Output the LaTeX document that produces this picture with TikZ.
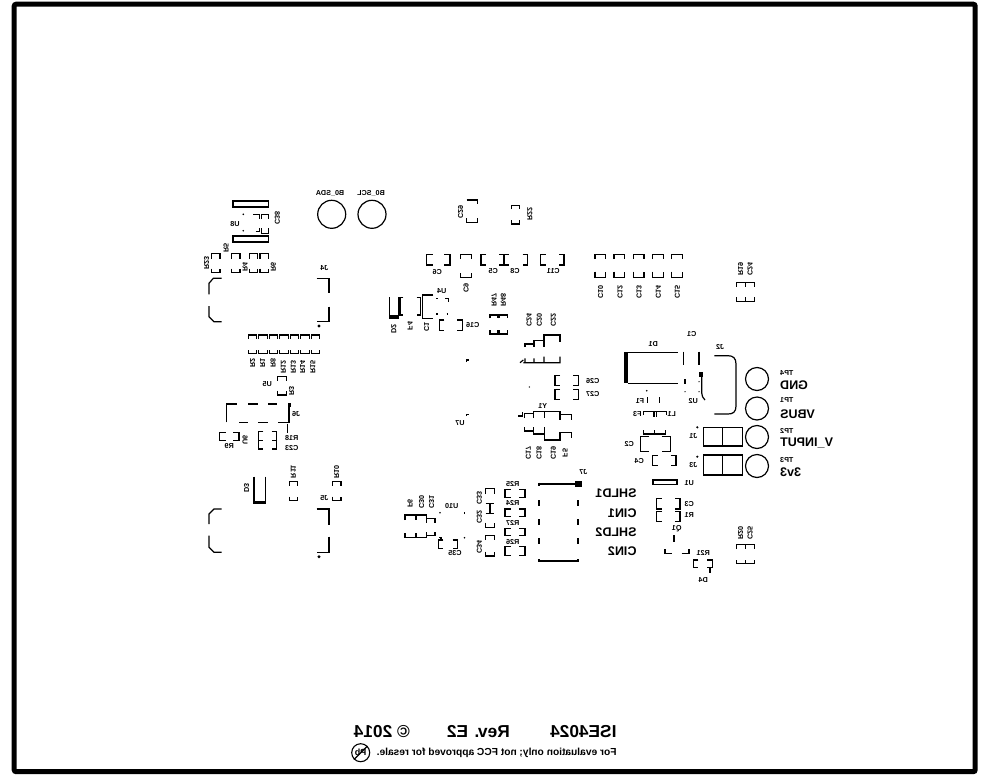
\documentclass[tikz,border=0pt]{standalone}
\usepackage{fontspec}
\setmainfont{Liberation Sans}
\tikzset{
sk/.style={line width=1.2pt},
wide/.style={line width=1.6pt},
lab/.style={font=\fontsize{7.2}{8}\selectfont\bfseries, inner sep=0pt, xscale=-1},
vlab/.style={lab, rotate=90},
big/.style={font=\fontsize{12.5}{14}\selectfont\bfseries, inner sep=0pt, xscale=-1},
huge/.style={font=\fontsize{17.3}{19}\selectfont\bfseries, inner sep=0pt, xscale=-1},
note/.style={font=\fontsize{10.2}{12}\selectfont\bfseries, inner sep=0pt, xscale=-1}
}
\begin{document}
\begin{tikzpicture}[x=1pt,y=-1pt]
\useasboundingbox (0,0) rectangle (981,782);
\draw [line width=5pt, rounded corners=2pt] (14.2,4.2) rectangle (975.2,771.7);
\draw [wide] (232.7,200.7) rectangle (268.3,206.7);
\draw [wide] (232.7,236) rectangle (268.3,242);
\draw [sk] (331.7,214.3) circle (14);
\draw [sk] (372,214.3) circle (14);
\node [lab] (bsda) at (330,193.5) {B0\_SDA};
\node [lab] (bscl) at (371,193.5) {B0\_SCL};
\node [lab] (u8) at (235,224) {U8};
\node [vlab] (c38) at (277.3,218.3) {C38};
\fill (243.3,214.3) circle (0.9);
\fill (243.3,230.7) circle (0.9);
\draw [sk] (253.3,214.3) -- (259.3,214.3) -- (259.3,219.3);
\draw [sk] (261.7,219.3) -- (261.7,214.3) -- (268.3,214.3) -- (268.3,219.3);
\draw [sk] (255.7,231.7) -- (259.3,231.7) -- (259.3,228.3);
\draw [sk] (261.7,228.3) -- (261.7,233.3) -- (268.3,233.3) -- (268.3,228.3);
\node [vlab] (r5) at (226,248) {R5};
\node [vlab] (r23) at (206.7,263) {R23};
\node [vlab] (r4) at (245,267) {R4};
\node [vlab] (r6) at (273.3,267) {R6};
\draw [sk] (211.7,258.5) -- (211.7,253.5) -- (220,253.5) -- (220,258.5) (211.7,268.5) -- (211.7,272.5) -- (220,272.5) -- (220,268.5);
\draw [sk] (231.7,258.5) -- (231.7,253.5) -- (240,253.5) -- (240,258.5) (231.7,268.5) -- (231.7,272.5) -- (240,272.5) -- (240,268.5);
\draw [sk] (249.3,258.5) -- (249.3,253.5) -- (257.7,253.5) -- (257.7,258.5) (249.3,268.5) -- (249.3,272.5) -- (257.7,272.5) -- (257.7,268.5);
\draw [sk] (260,258.5) -- (260,253.5) -- (268.3,253.5) -- (268.3,258.5) (260,268.5) -- (260,272.5) -- (268.3,272.5) -- (268.3,268.5);
\node [lab] (j4) at (324.3,268) {J4};
\draw [sk] (316.7,278.3) -- (329,278.3) -- (329,293.3) (329,306.7) -- (329,321.7) -- (316.7,321.7);
\draw [sk] (221.7,278.3) -- (213.3,278.3) -- (209,283.3) -- (209,294.3) (209,306) -- (209,316.7) -- (214,321.7) -- (221.7,321.7);
\fill (319,326) circle (1.6);
\draw [sk] (248.3,339) -- (248.3,335) -- (256.8,335) -- (256.8,339) (258.8,339) -- (258.8,335) -- (267.3,335) -- (267.3,339) (269.3,339) -- (269.3,335) -- (277.8,335) -- (277.8,339) (279.7,339) -- (279.7,335) -- (288.2,335) -- (288.2,339) (290.2,339) -- (290.2,335) -- (298.7,335) -- (298.7,339) (300.7,339) -- (300.7,335) -- (309.2,335) -- (309.2,339) (311.2,339) -- (311.2,335) -- (319.7,335) -- (319.7,339);
\draw [sk] (248.3,350) -- (248.3,353.5) -- (256.8,353.5) -- (256.8,350) (258.8,350) -- (258.8,353.5) -- (267.3,353.5) -- (267.3,350) (269.3,350) -- (269.3,353.5) -- (277.8,353.5) -- (277.8,350) (279.7,350) -- (279.7,353.5) -- (288.2,353.5) -- (288.2,350) (290.2,350) -- (290.2,353.5) -- (298.7,353.5) -- (298.7,350) (300.7,350) -- (300.7,353.5) -- (309.2,353.5) -- (309.2,350) (311.2,350) -- (311.2,353.5) -- (319.7,353.5) -- (319.7,350);
\node [vlab] (r2) at (252.7,363) {R2};
\node [vlab] (r1b) at (262.7,363) {R1};
\node [vlab] (r8) at (273,363) {R8};
\node [vlab] (r12) at (283.3,367) {R12};
\node [vlab] (r13) at (293.3,367) {R13};
\node [vlab] (r14) at (302.7,367) {R14};
\node [vlab] (r15) at (312.7,367) {R15};
\node [lab] (u5) at (267.3,384) {U5};
\node [vlab] (r3) at (291.7,390.7) {R3};
\draw [sk] (277.3,380.7) -- (277.3,376.7) -- (286.7,376.7) -- (286.7,380.7) (277.3,390.7) -- (277.3,395) -- (286.7,395) -- (286.7,390.7);
\draw [sk] (226.7,422.3) -- (226.7,404) -- (236.7,404);
\draw [sk] (248.3,404) -- (258.3,404) (268.3,404) -- (277.3,404);
\draw [sk] (239,422.3) -- (248.3,422.3) (258.3,422.3) -- (268.3,422.3) (278.3,422.3) -- (289,422.3) -- (289,405);
\fill (288,403) rectangle (291,407);
\draw [wide] (287.3,423.5) -- (287.3,433);
\node [lab] (j6) at (296,414) {J6};
\node [lab] (r18) at (291.7,438.3) {R18};
\node [lab] (c23) at (291.7,448.3) {C23};
\draw [sk] (263.3,431.7) -- (258.3,431.7) -- (258.3,449) -- (263.3,449) (258.3,440.7) -- (263.3,440.7);
\draw [sk] (271.7,431.7) -- (276.7,431.7) -- (276.7,449) -- (271.7,449) (276.7,440.7) -- (271.7,440.7);
\node [vlab] (u6) at (245,440) {U6};
\draw [sk] (225.7,432.3) -- (219.3,432.3) -- (219.3,440.7) -- (225.7,440.7);
\draw [sk] (233.3,432.3) -- (239,432.3) -- (239,440.7) -- (233.3,440.7);
\node [lab] (r9) at (229.3,446) {R9};
\draw [sk] (289.3,485.7) -- (289.3,481.7) -- (297.7,481.7) -- (297.7,485.7) (289.3,496.7) -- (289.3,500.7) -- (297.7,500.7) -- (297.7,496.7);
\node [vlab] (r11) at (293.3,471.7) {R11};
\draw [sk] (332.7,485.7) -- (332.7,481.7) -- (341,481.7) -- (341,485.7) (332.7,496.7) -- (332.7,500.7) -- (341,500.7) -- (341,496.7);
\node [vlab] (r10) at (336.7,471.7) {R10};
\draw [sk] (254,476.7) -- (254,501) (265.7,476.7) -- (265.7,501);
\fill (253.3,500.7) rectangle (266.3,504);
\node [vlab] (d3) at (246.7,488.3) {D3};
\node [lab] (j5) at (324.3,498.3) {J5};
\draw [sk] (316.7,509) -- (329,509) -- (329,525) (329,536.7) -- (329,552.3) -- (316.7,552.3);
\draw [sk] (221.7,509) -- (214,509) -- (209,514) -- (209,524) (209,535.7) -- (209,547.3) -- (214,552.3) -- (221.7,552.3);
\fill (319,556.7) circle (1.6);
\draw [sk] (389.3,297.3) -- (389.3,316) (399,297.3) -- (399,316);
\fill (389,315) rectangle (399.3,318.5);
\node [vlab] (d2) at (394,329) {D2};
\draw [sk] (403.3,297.3) -- (400.3,297.3) -- (400.3,315) -- (403.3,315);
\draw [sk] (416.7,297.3) -- (420.7,297.3) -- (420.7,315) -- (416.7,315);
\node [vlab] (f4) at (410,326) {F4};
\node [vlab] (c1b) at (426.7,326.7) {C1};
\draw [sk] (433.3,295) -- (422.3,295) -- (422.3,318.3) -- (433.3,318.3);
\node [lab] (u4) at (441.7,290.7) {U4};
\draw [sk] (436,298.3) -- (438.3,298.3) (445,298.3) -- (448.3,298.3) -- (448.3,301.7) (436,314) -- (438.3,314) (446.7,314) -- (448.3,314);
\draw [sk] (444.3,320) -- (439.3,320) -- (439.3,330.7) -- (444.3,330.7);
\draw [sk] (457.3,320) -- (462.3,320) -- (462.3,330.7) -- (457.3,330.7);
\node [lab] (c16) at (472.7,325) {C16};
\draw [sk] (432.7,254.3) -- (426.7,254.3) -- (426.7,265) -- (432.7,265);
\draw [sk] (444.3,254.3) -- (450,254.3) -- (450,265) -- (444.3,265);
\node [lab] (c6) at (437.3,271.7) {C6};
\draw [sk] (460.7,259) -- (460.7,254.3) -- (471.7,254.3) -- (471.7,259) (460.7,273.3) -- (460.7,277.3) -- (471.7,277.3) -- (471.7,273.3);
\node [vlab] (c9) at (466,288) {C9};
\draw [sk] (486,254.3) -- (481,254.3) -- (481,265) -- (486,265);
\draw [sk] (499.3,254.3) -- (509.3,254.3) (504,254.3) -- (504,265) (499.3,265) -- (509.3,265);
\draw [sk] (522.7,254.3) -- (527.7,254.3) -- (527.7,265) -- (522.7,265);
\node [lab] (c5) at (493.3,270.7) {C5};
\node [lab] (c8) at (515,270.7) {C8};
\draw [sk] (545.7,254.3) -- (540.7,254.3) -- (540.7,265) -- (545.7,265);
\draw [sk] (559,254.3) -- (564,254.3) -- (564,265) -- (559,265);
\node [lab] (c11) at (553.3,270.7) {C11};
\draw [sk] (466.7,200) -- (477.3,200) -- (477.3,204) (466.7,222.7) -- (477.3,222.7) -- (477.3,218) (466.7,218) -- (466.7,222.7);
\node [vlab] (c29) at (460.7,211.7) {C29};
\draw [sk] (511.7,209) -- (511.7,205.7) -- (519.3,205.7) -- (519.3,209) (511.7,220) -- (511.7,224) -- (519.3,224) -- (519.3,220);
\node [vlab] (r22) at (530,214) {R22};
\draw [sk] (490,318.3) -- (490,315) -- (497.7,315) -- (497.7,318.3) (490,330) -- (490,334) -- (497.7,334) -- (497.7,330);
\draw [sk] (499,318.3) -- (499,315) -- (507.3,315) -- (507.3,318.3) (499,330) -- (499,334) -- (507.3,334) -- (507.3,330);
\node [vlab] (r47) at (494,300) {R47};
\node [vlab] (r48) at (503.3,300) {R48};
\node [vlab] (c24) at (529,320) {C24};
\node [vlab] (c20) at (539.3,320) {C20};
\node [vlab] (c22) at (553.3,320) {C22};
\draw [sk] (525,347) -- (525,344) -- (534,344) -- (534,340.7) -- (544,340.7) -- (544,335) -- (560,335) -- (560,341.7) (534,344) -- (534,347) (544,340.7) -- (544,347);
\draw [sk] (520,362.7) -- (523.3,360) (523.3,362.7) -- (560,362.7) -- (560,356.7) (525,358.3) -- (525,362.7) (534,358.3) -- (534,362.7) (544,356.7) -- (544,362.7);
\draw [sk] (466.7,362) -- (466.7,360) -- (468.5,360);
\fill (529.3,387) circle (0.7);
\draw [sk] (560,375.7) -- (555,375.7) -- (555,385.7) -- (560,385.7);
\draw [sk] (573.3,375.7) -- (578.3,375.7) -- (578.3,385.7) -- (573.3,385.7);
\draw [sk] (560,389.3) -- (555,389.3) -- (555,399.3) -- (560,399.3);
\draw [sk] (573.3,389.3) -- (578.3,389.3) -- (578.3,399.3) -- (573.3,399.3);
\node [lab] (c26) at (592.7,381) {C26};
\node [lab] (c27) at (592.7,394) {C27};
\node [lab] (y1) at (542.7,406) {Y1};
\draw [sk] (518.3,416) -- (522.7,416) -- (522.7,412);
\draw [sk] (524.3,418) -- (524.3,413.5) -- (533.3,413.5) (533.3,418) -- (533.3,411.7) -- (560,411.7) -- (560,420) (544.3,411.7) -- (544.3,418) (560,414.3) -- (571.7,414.3) -- (571.7,420);
\draw [sk] (524.3,427.3) -- (524.3,431) -- (533.3,431) (533.3,427.3) -- (533.3,434) -- (544.3,434) -- (544.3,440) -- (560,440) -- (560,432.7) -- (571.7,432.7) -- (571.7,438.3) (544.3,427.3) -- (544.3,434);
\node [vlab] (c17) at (528.3,453) {C17};
\node [vlab] (c18) at (539,453) {C18};
\node [vlab] (c19) at (553.3,453) {C19};
\node [vlab] (f5) at (565,453) {F5};
\node [lab] (u7) at (460,422.7) {U7};
\draw [sk] (466.5,416) -- (466.5,414.3) -- (469,414.3);
\node [lab] (j7) at (583.3,471.7) {J7};
\draw [wide] (539,484) -- (578,484);
\fill (575,480.7) rectangle (581.7,487.3);
\draw [wide] (539,482.5) -- (539,485.5);
\draw [wide] (539,500) -- (539,506) (539,519.3) -- (539,525.3) (539,538.3) -- (539,544.3);
\draw [wide] (577.7,500) -- (577.7,506) (577.7,519.3) -- (577.7,525.3) (577.7,538.3) -- (577.7,544.3);
\draw [wide] (539,559) -- (539,560.7) -- (577.7,560.7) -- (577.7,559);
\draw [sk] (510.7,489.3) -- (505,489.3) -- (505,497.3) -- (510.7,497.3) (519.3,489.3) -- (525,489.3) -- (525,497.3) -- (519.3,497.3);
\draw [sk] (510.7,509) -- (505,509) -- (505,516.7) -- (510.7,516.7) (519.3,509) -- (525,509) -- (525,516.7) -- (519.3,516.7);
\draw [sk] (510.7,528.3) -- (505,528.3) -- (505,535.7) -- (510.7,535.7) (519.3,528.3) -- (525,528.3) -- (525,535.7) -- (519.3,535.7);
\draw [sk] (510.7,546.7) -- (505,546.7) -- (505,555.3) -- (510.7,555.3) (519.3,546.7) -- (525,546.7) -- (525,555.3) -- (519.3,555.3);
\node [lab] (r25) at (512.7,484.3) {R25};
\node [lab] (r24) at (512.7,503.3) {R24};
\node [lab] (r27) at (512.7,522.7) {R27};
\node [lab] (r26) at (512.7,541.7) {R26};
\draw [sk] (485.7,494) -- (485.7,488.3) -- (494.3,488.3) -- (494.3,494);
\draw [sk] (485.7,503.3) -- (494.3,503.3) (490,503.3) -- (490,513.3) (485.7,513.3) -- (494.3,513.3);
\draw [sk] (485.7,522.7) -- (485.7,527.3) -- (494.3,527.3) -- (494.3,522.7);
\draw [sk] (485.7,540) -- (485.7,535.7) -- (494.3,535.7) -- (494.3,540);
\draw [sk] (485.7,551.7) -- (485.7,556) -- (494.3,556) -- (494.3,551.7);
\node [vlab] (c33) at (479.3,498.3) {C33};
\node [vlab] (c32) at (479.3,516.7) {C32};
\node [vlab] (c34) at (479.3,546.7) {C34};
\node [lab] (u10) at (451.7,506) {U10};
\fill (440,512.7) circle (0.8);
\draw [sk] (464.5,514) -- (464.5,512);
\draw [sk] (439,537.7) -- (441,537.7) -- (441,539);
\fill (464.5,537.7) circle (0.8);
\draw [sk] (443.3,540) -- (438.3,540) -- (438.3,548.3) -- (443.3,548.3);
\draw [sk] (452.7,540) -- (457.7,540) -- (457.7,548.3) -- (452.7,548.3);
\node [lab] (c35) at (455,553.3) {C35};
\draw [sk] (405,520) -- (405,515) -- (426.7,515) -- (426.7,523.3) (416,515) -- (416,520) (426.7,518.3) -- (435,518.3) -- (435,523.3);
\draw [sk] (405,533.3) -- (405,537.7) -- (426.7,537.7) -- (426.7,531.7) (416,533.3) -- (416,537.7) (426.7,535.7) -- (435,535.7) -- (435,531.7);
\node [vlab] (f6) at (410,503.3) {F6};
\node [vlab] (c30) at (421.7,502) {C30};
\node [vlab] (c31) at (431.7,502) {C31};
\draw [sk] (595,259) -- (595,254.3) -- (605.7,254.3) -- (605.7,259) (595,271.7) -- (595,277.3) -- (605.7,277.3) -- (605.7,271.7);
\draw [sk] (614,259) -- (614,254.3) -- (624.7,254.3) -- (624.7,259) (614,271.7) -- (614,277.3) -- (624.7,277.3) -- (624.7,271.7);
\draw [sk] (633.3,259) -- (633.3,254.3) -- (644,254.3) -- (644,259) (633.3,271.7) -- (633.3,277.3) -- (644,277.3) -- (644,271.7);
\draw [sk] (652.7,259) -- (652.7,254.3) -- (663.3,254.3) -- (663.3,259) (652.7,271.7) -- (652.7,277.3) -- (663.3,277.3) -- (663.3,271.7);
\draw [sk] (671.7,259) -- (671.7,254.3) -- (682.3,254.3) -- (682.3,259) (671.7,271.7) -- (671.7,277.3) -- (682.3,277.3) -- (682.3,271.7);
\node [vlab] (c10) at (600.7,291.7) {C10};
\node [vlab] (c12) at (620,291.7) {C12};
\node [vlab] (c13) at (639,291.7) {C13};
\node [vlab] (c14) at (658.3,291.7) {C14};
\node [vlab] (c15) at (677.3,291.7) {C15};
\draw [sk] (736.7,286.7) -- (736.7,282.7) -- (754.3,282.7) -- (754.3,286.7) (745.7,282.7) -- (745.7,286.7);
\draw [sk] (736.7,297.3) -- (736.7,301.7) -- (754.3,301.7) -- (754.3,297.3) (745.7,297.3) -- (745.7,301.7);
\node [vlab] (r19) at (740.7,269.3) {R19};
\node [vlab] (c24b) at (750,269.3) {C24};
\fill (624,352.3) rectangle (628.3,383.3);
\draw [sk] (628,352.3) -- (678.3,352.3) (628,383.3) -- (678.3,383.3);
\node [lab] (d1) at (653.3,344) {D1};
\node [lab] (c1) at (691.7,334) {C1};
\draw [sk] (683.7,351.7) -- (683.7,365) (699,351.7) -- (699,365) (685,379.3) -- (685,384);
\fill (699,371.7) rectangle (703.3,376.7);
\draw [sk] (701.7,375) -- (701.7,393) .. controls (701.7,396) and (703,398) .. (705,400);
\fill (699,381.7) circle (0.7);
\fill (685,391.7) circle (0.7);
\fill (699,391.7) circle (0.7);
\node [lab] (u2) at (693.3,400.7) {U2};
\draw [sk] (714.3,355.7) -- (728,355.7) .. controls (733,355.7) and (736,358) .. (736,364) -- (736,406) .. controls (736,412) and (733,414) .. (728,414) -- (714.3,414);
\node [lab] (j2) at (720,346.7) {J2};
\node [lab] (f1) at (640,400.7) {F1};
\node [lab] (f3) at (637.3,414) {F3};
\node [lab] (l1) at (671.7,414) {L1};
\fill (646.7,390.7) circle (0.9);
\draw [sk] (647.7,397.3) -- (647.7,402.7) (659.3,397.3) -- (659.3,402.7);
\draw [sk] (643.3,415) -- (643.3,411.7) -- (666.7,411.7) -- (666.7,415) (654,411.7) -- (654,417) (656.7,411.7) -- (656.7,417);
\draw [sk] (643.3,430) -- (643.3,434) -- (665.7,434) -- (665.7,430) (654.3,430) -- (654.3,434);
\draw [sk] (649.3,436.7) -- (640.7,436.7) -- (640.7,451.7) -- (649.3,451.7);
\draw [sk] (661.7,436.7) -- (670.7,436.7) -- (670.7,451.7) -- (661.7,451.7);
\node [lab] (c2) at (629.3,444) {C2};
\draw [sk] (657.7,455.7) -- (652.7,455.7) -- (652.7,465.7) -- (657.7,465.7);
\draw [sk] (670.7,455.7) -- (676,455.7) -- (676,465.7) -- (670.7,465.7);
\node [lab] (c4) at (639.3,461) {C4};
\draw [wide] (652.7,480) rectangle (676.7,484.3);
\node [lab] (u1) at (689.3,482.7) {U1};
\draw [sk] (661.7,498.3) -- (656.7,498.3) -- (656.7,509) -- (661.7,509) (675,498.3) -- (680,498.3) -- (680,509) -- (675,509);
\draw [sk] (661.7,511.7) -- (656.7,511.7) -- (656.7,521.7) -- (661.7,521.7) (675,511.7) -- (680,511.7) -- (680,521.7) -- (675,521.7);
\node [lab] (c3) at (689.3,504) {C3};
\node [lab] (r1) at (689.3,515) {R1};
\node [lab] (q1) at (676.7,528.3) {Q1};
\draw [wide] (674,535) -- (674,541.7);
\draw [sk] (665,549.3) -- (665,553.3) -- (672.3,553.3) (681.7,553.3) -- (689,553.3) -- (689,549.3);
\node [lab] (r21) at (703.3,553.3) {R21};
\draw [sk] (698.3,560) -- (693.3,560) -- (693.3,567.7) -- (698.3,567.7);
\draw [sk] (707.3,560) -- (712.3,560) -- (712.3,567.7) -- (707.3,567.7);
\draw [sk] (710,568) -- (710,573.3);
\node [lab] (d4) at (703.3,580) {D4};
\draw [sk] (736.7,549) -- (736.7,544.3) -- (754.3,544.3) -- (754.3,549) (745.7,544.3) -- (745.7,549);
\draw [sk] (736.7,560) -- (736.7,563.3) -- (754.3,563.3) -- (754.3,560) (745.7,560) -- (745.7,563.3);
\node [vlab] (r20) at (740.7,533) {R20};
\node [vlab] (c25) at (750,533) {C25};
\draw [sk] (703.3,427.3) rectangle (742.7,446) (722.7,427.3) -- (722.7,446);
\draw [sk] (703.3,455) rectangle (742.7,475) (722.7,455) -- (722.7,475);
\fill (697.3,427.3) circle (1.2);
\fill (697.3,456.7) circle (1.2);
\node [lab] (j1) at (693.3,436) {J1};
\node [lab] (j3) at (693.3,465) {J3};
\draw [sk] (757,379) circle (11.5);
\draw [sk] (757,408.5) circle (11.5);
\draw [sk] (757,437) circle (11.5);
\draw [sk] (757,466) circle (11.5);
\node [lab, anchor=east] (tp4) at (780,373) {TP4};
\node [lab, anchor=east] (tp1) at (780,400) {TP1};
\node [lab, anchor=east] (tp2) at (780,431) {TP2};
\node [lab, anchor=east] (tp3) at (780,460) {TP3};
\node [big, anchor=east] (gnd) at (780,385) {GND};
\node [big, anchor=east] (vbus) at (780,414) {VBUS};
\node [big, anchor=east] (vinput) at (780,443) {V\_INPUT};
\node [big, anchor=east] (vvv) at (780,472) {3v3};
\node [big, anchor=west] (shld1) at (636.7,492.7) {SHLD1};
\node [big, anchor=west] (cin1) at (636.7,512.7) {CIN1};
\node [big, anchor=west] (shld2) at (636.7,531.7) {SHLD2};
\node [big, anchor=west] (cin2) at (636.7,550.7) {CIN2};
\node [huge, anchor=west] (ise) at (616.7,732) {ISE4024};
\node [huge, anchor=west] (rev) at (510,732) {Rev. E2};
\node [huge, anchor=west] (year) at (410,732) {\textcopyright{} 2014};
\node [note, anchor=west] (resale) at (616.7,752.7) {For evaluation only; not FCC approved for resale.};
\node [draw, circle, line width=1.1pt, minimum size=18pt, inner sep=0pt, font=\fontsize{9}{10}\selectfont\bfseries, xscale=-1] (pb) at (360.7,752.7) {Pb};
\draw [sk] (pb.north west) -- (pb.south east);
\end{tikzpicture}
\end{document}
